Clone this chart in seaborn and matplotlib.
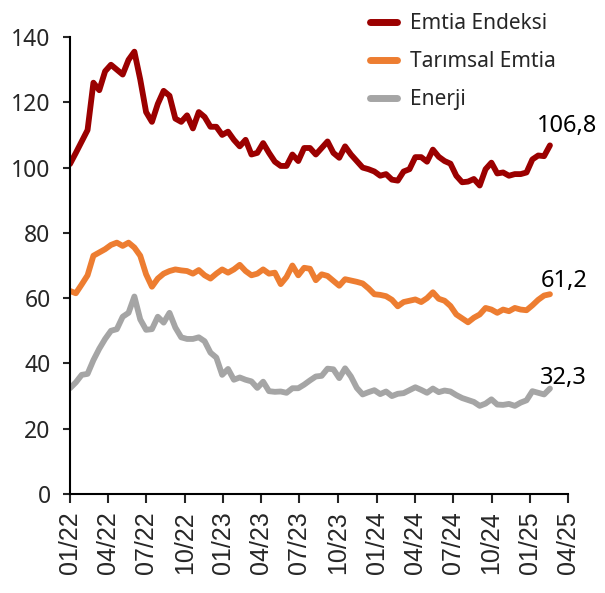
import matplotlib
matplotlib.use("Agg")
import matplotlib.pyplot as plt
import matplotlib.dates as mdates
import numpy as np
import pandas as pd
import seaborn as sns

# ---- data (biweekly readings from the chart) ----
start_date = "2022-01-01"
end_date = "2025-02-17"

emtia_endeksi = [
    101.1, 104.5, 108.0, 111.5, 126.0, 123.7, 129.5, 131.5, 130.0, 128.5,
    133.0, 135.5, 127.0, 117.0, 114.0, 119.5, 123.5, 122.0, 115.0, 114.0,
    116.0, 112.0, 117.0, 115.5, 112.5, 112.5, 110.0, 111.0, 108.5, 106.5,
    108.5, 104.0, 104.5, 107.5, 104.5, 101.8, 100.5, 100.5, 104.0, 102.0,
    106.0, 106.0, 104.0, 106.0, 108.0, 104.5, 103.0, 106.5, 104.0, 102.0,
    100.0, 99.5, 98.8, 97.5, 98.0, 96.3, 96.0, 98.8, 99.5, 103.2,
    103.2, 101.8, 105.5, 103.3, 102.0, 101.2, 97.5, 95.5, 95.7, 96.5,
    94.5, 99.5, 101.5, 98.2, 98.5, 97.5, 98.0, 98.0, 98.5, 102.5,
    103.7, 103.5, 106.8,
]
tarimsal_emtia = [
    62.2, 61.5, 64.2, 67.0, 73.0, 74.0, 75.0, 76.3, 77.0, 76.0,
    77.0, 75.5, 73.0, 67.3, 63.5, 66.0, 67.5, 68.3, 68.8, 68.5,
    68.3, 67.5, 68.6, 67.0, 66.0, 67.5, 68.8, 67.8, 68.8, 70.2,
    68.3, 67.0, 67.5, 68.8, 67.5, 67.8, 64.3, 66.5, 70.0, 67.0,
    69.3, 69.0, 65.5, 67.3, 66.8, 65.3, 63.8, 65.8, 65.4, 65.0,
    64.5, 63.0, 61.2, 61.0, 60.6, 59.5, 57.5, 58.8, 59.2, 59.6,
    58.8, 60.0, 61.8, 59.8, 59.2, 57.6, 55.0, 53.8, 52.6, 54.0,
    55.0, 57.0, 56.5, 55.5, 56.5, 56.0, 57.0, 56.5, 56.3, 57.8,
    59.5, 60.8, 61.2,
]
enerji = [
    32.4, 34.2, 36.5, 36.8, 41.0, 44.5, 47.5, 50.0, 50.5, 54.3,
    55.5, 60.5, 53.5, 50.3, 50.5, 54.3, 52.5, 55.5, 51.0, 48.0,
    47.5, 47.5, 48.0, 46.8, 43.3, 41.8, 36.5, 38.3, 35.0, 35.7,
    35.0, 34.5, 32.5, 34.4, 31.5, 31.3, 31.4, 31.0, 32.4, 32.4,
    33.5, 34.8, 36.0, 36.2, 38.4, 38.2, 35.5, 38.5, 36.0, 32.5,
    30.5, 31.2, 31.8, 30.6, 31.4, 30.0, 30.7, 30.9, 31.8, 32.7,
    31.9, 31.0, 32.3, 31.2, 31.7, 31.4, 30.3, 29.4, 28.8, 28.2,
    27.0, 27.7, 29.0, 27.4, 27.3, 27.6, 27.0, 28.0, 28.7, 31.5,
    31.0, 30.5, 32.3,
]
series_names = ["Emtia Endeksi", "Tarımsal Emtia", "Enerji"]
end_labels = ["106,8", "61,2", "32,3"]
colors = ["#9B0000", "#ED7D31", "#A5A5A5"]
y_ticks = [0, 20, 40, 60, 80, 100, 120, 140]

dates = pd.date_range(start_date, end_date, periods=len(emtia_endeksi))
df = pd.concat([
    pd.DataFrame({"date": dates, "value": vals, "series": name})
    for name, vals in zip(series_names, [emtia_endeksi, tarimsal_emtia, enerji])
])

# ---- plot ----
sns.set_style("ticks")
plt.rcParams["font.family"] = ["Noto Sans", "DejaVu Sans"]

fig = plt.figure(figsize=(6.05, 5.93), dpi=100)
ax = fig.add_axes([70 / 605, 1 - 494 / 593, (568 - 70) / 605, (494 - 37) / 593])

sns.lineplot(data=df, x="date", y="value", hue="series", hue_order=series_names,
             palette=colors, linewidth=4.2, ax=ax, legend=True)

ax.set_ylim(0, 140)
ax.set_yticks(y_ticks)
ax.set_xlim(pd.Timestamp("2022-01-01"), pd.Timestamp("2025-04-01"))
ax.xaxis.set_major_locator(mdates.MonthLocator(bymonth=[1, 4, 7, 10]))
ax.xaxis.set_major_formatter(mdates.DateFormatter("%m/%y"))
ax.set_xlabel("")
ax.set_ylabel("")

for s in ["top", "right"]:
    ax.spines[s].set_visible(False)
for s in ["left", "bottom"]:
    ax.spines[s].set_linewidth(1.5)
    ax.spines[s].set_color("black")

ax.tick_params(axis="y", direction="out", length=5, width=1.5, labelsize=16.5, pad=9)
ax.tick_params(axis="x", direction="out", length=6.5, width=1.5, labelsize=18,
               pad=6, rotation=90)
for lab in ax.get_xticklabels():
    lab.set_family(["Liberation Sans", "DejaVu Sans"])

# end labels
offsets = [(-13, 13), (-9, 7), (-10, 5)]
for vals, txt, off in zip([emtia_endeksi, tarimsal_emtia, enerji], end_labels, offsets):
    ax.annotate(txt, xy=(dates[-1], vals[-1]), xytext=off, textcoords="offset pixels",
                ha="left", va="baseline", fontsize=17, color="black")

handles, labels = ax.get_legend_handles_labels()
leg = ax.legend(handles, labels, loc="upper left",
                bbox_to_anchor=(370 / 605, 1 - 13 / 593), bbox_transform=fig.transFigure,
                frameon=False, fontsize=15, handlelength=1.3, handletextpad=0.6,
                labelspacing=0.82, borderpad=0, borderaxespad=0)
for line in leg.get_lines():
    line.set_linewidth(5)
    line.set_solid_capstyle("round")

fig.savefig("out.png", dpi=100)
